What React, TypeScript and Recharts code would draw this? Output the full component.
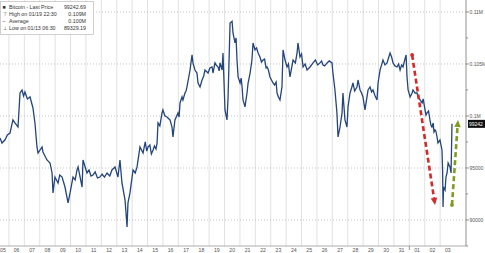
import React from "react";
import { LineChart, Line, XAxis, YAxis, CartesianGrid, ReferenceLine } from "recharts";

// time = fractional day of January (32 = Feb 1), price in USD; rows of times and prices line up
const times = [
  5.42, 5.55, 5.74, 5.9, 6.07, 6.26, 6.39, 6.59, 6.72, 6.85, 6.95, 7.04, 7.2, 7.37, 7.56, 7.69, 7.82, 7.89, 8.15, 8.21,
  8.47, 8.67, 8.8, 8.86, 8.99, 9.19, 9.3, 9.45, 9.64, 9.84, 9.97, 10.16, 10.3, 10.42, 10.49, 10.75, 10.81,
  11.07, 11.2, 11.33, 11.46, 11.6, 11.75, 11.91, 12.05, 12.2, 12.37, 12.55, 12.69, 12.89, 13.08,
  13.21, 13.34, 13.54, 13.67, 13.73, 13.86, 14.06, 14.2, 14.32, 14.51, 14.71, 14.85, 14.95, 15.03, 15.15, 15.25, 15.36, 15.45, 15.55, 15.62,
  15.68, 15.8, 15.94, 16.0, 16.13, 16.26, 16.46, 16.59, 16.65, 16.78, 16.98, 17.05, 17.11, 17.24, 17.3, 17.43, 17.5, 17.56, 17.76, 17.89, 17.95,
  18.08, 18.21, 18.28, 18.41, 18.54, 18.65, 18.73, 18.93, 19.05, 19.19, 19.25, 19.38, 19.45, 19.58, 19.65, 19.71, 19.84, 19.9, 20.03, 20.16, 20.23,
  20.36, 20.49, 20.55, 20.68, 20.75, 20.81, 20.88, 21.01, 21.08, 21.14, 21.2, 21.33, 21.46, 21.53, 21.66, 21.78, 21.85, 21.98, 22.08, 22.18,
  22.3, 22.4, 22.5, 22.6, 22.7, 22.76, 22.85, 22.95, 23.05, 23.15, 23.25, 23.35, 23.41, 23.5, 23.6, 23.73, 23.8, 23.93, 24.06, 24.15, 24.25,
  24.45, 24.6, 24.71, 24.77, 24.9, 25.0, 25.1, 25.23, 25.36, 25.55, 25.75, 25.9, 26.05, 26.2, 26.3, 26.4, 26.5, 26.66, 26.8, 26.98, 27.04,
  27.17, 27.3, 27.37, 27.5, 27.63, 27.69, 27.82, 27.95, 28.02, 28.15, 28.25, 28.34, 28.45, 28.6, 28.67, 28.8, 28.9, 28.99, 29.12,
  29.25, 29.32, 29.45, 29.55, 29.64, 29.78, 29.9, 29.97, 30.1, 30.2, 30.29, 30.42, 30.55, 30.65, 30.75, 30.85, 30.94, 31.07, 31.2, 31.3, 31.4, 31.5, 31.59, 31.7, 31.79, 31.85, 31.92,
  32.05, 32.18, 32.24, 32.37, 32.5, 32.57, 32.7, 32.83, 32.9, 33.02, 33.08, 33.15, 33.25, 33.34, 33.4, 33.47, 33.55, 33.6, 33.67, 33.72, 33.8, 33.86, 33.99, 34.12, 34.16, 34.19, 34.22, 34.32, 34.38, 34.45, 34.52, 34.64, 34.71, 34.77,
];

const prices = [
  97880, 97400, 97690, 98170, 98360, 99620, 99330, 98940, 102210, 102500, 101930, 102310, 101640, 101830, 100770, 99330, 97020, 96440, 97020, 96540,
  95770, 95480, 94520, 92600, 94130, 93560, 94330, 94130, 93170, 91640, 92600, 94130, 93850, 94810, 95100, 93170, 95770,
  94520, 94810, 94230, 94330, 94620, 94040, 94130, 94420, 94130, 94520, 94230, 94810, 95100, 94130,
  95770, 93560, 91920, 89330, 91640, 92600, 94810, 94520, 95100, 97020, 96440, 97500, 96630, 97020, 97210, 96340, 96730, 97120, 96830, 97400,
  99330, 99040, 100290, 100580, 100000, 99900, 99620, 98940, 97980, 99620, 100290, 99900, 101250, 101830, 101540, 102210, 102400, 102790, 104420, 105870, 105100,
  104420, 104130, 103170, 102790, 103460, 103850, 104420, 104130, 104620, 104710, 104130, 105100, 104910, 104710, 104330, 105100, 104420, 106060, 100580, 99620, 101830,
  108940, 109100, 107980, 107020, 107500, 105380, 103750, 103170, 103650, 102790, 101540, 100870, 102210, 103170, 104130, 105380, 107020, 106350, 106540, 106060,
  105670, 105190, 105380, 105470, 104620, 104710, 104420, 103750, 103460, 103170, 102980, 103270, 102210, 101830, 101540, 102790, 106350, 105380, 104710, 105000, 103750,
  105380, 105100, 106060, 107020, 105670, 105960, 104710, 105000, 104420, 104710, 105100, 105380, 104900, 105100, 105290, 104900, 104810, 105100, 105290, 105100, 104130,
  102500, 100290, 97980, 98940, 100290, 102210, 99620, 98940, 100870, 102210, 102690, 103170, 102400, 102790, 103460, 102500, 102210, 101830, 100580,
  101830, 102500, 102790, 102310, 102500, 101930, 101540, 103170, 104420, 104910, 105380, 104910, 105100, 105570, 106060, 105670, 105100, 104810, 104710, 105000, 104420, 104910, 104710, 105380, 105870, 103750, 102500,
  101830, 102210, 102500, 102210, 102210, 101830, 101540, 101250, 101640, 100580, 100090, 100290, 100480, 99620, 99140, 98940, 99330, 98460, 98650, 98560, 97980, 97400, 97690, 96730, 94810, 91250, 93170, 92880, 94130, 94520, 95480, 95100, 94520, 99242.69,
];

const dayLabels = [
  "05", "06", "07", "08", "09", "10", "11", "12", "13", "14", "15", "16", "17", "18", "19",
  "20", "21", "22", "23", "24", "25", "26", "27", "28", "29", "30", "31", "01", "02", "03",
];

const priceTicks = [87500, 90000, 92500, 95000, 97500, 100000, 102500, 105000, 107500, 110000];
const priceLabels: Record<number, string> = {
  90000: "90000",
  95000: "95000",
  100000: "0.1M",
  105000: "0.105M",
  110000: "0.11M",
};

const lastPrice = 99242.69;
const dropArrow = [{ x: 32.18, y: 105870 }, { x: 33.67, y: 91440 }];
const reboundArrow = [{ x: 34.77, y: 91440 }, { x: 35.16, y: 99620 }];

const legendRows = [
  { mark: "■", label: "Bitcoin - Last Price", value: "99242.69" },
  { mark: "⊤", label: "High on 01/19 22:30", value: "0.109M" },
  { mark: "–", label: "Average", value: "0.100M" },
  { mark: "⊥", label: "Low on 01/13 06:30", value: "89329.19" },
];

const data = times.map((t, i) => ({ t, price: prices[i] }));
const dayTicks = dayLabels.map((_, i) => 5.5 + i);
const dayGrid = dayLabels.slice(1).map((_, i) => 6 + i);

const font = "'Liberation Sans', Arial, sans-serif";

function DayTick({ x, y, payload }: any) {
  const label = dayLabels[Math.round(payload.value - 5.5)];
  return (
    <text x={Math.max(x, 3)} y={y + 6.2} textAnchor="middle" fontSize={5.2} fill="#555" fontFamily={font}>
      {label}
    </text>
  );
}

function PriceTick({ x, y, payload }: any) {
  const v = payload.value;
  const label = priceLabels[v];
  return (
    <g>
      <line x1={x} y1={y} x2={x + (label ? 3 : 2)} y2={y} stroke="#666" strokeWidth={0.7} />
      {label && (
        <text x={x + 3.5} y={y + 2} fontSize={5} fill="#555" fontFamily={font}>
          {label}
        </text>
      )}
    </g>
  );
}

function Arrow({ x1, y1, x2, y2, color }: any) {
  const dx = x2 - x1;
  const dy = y2 - y1;
  const len = Math.hypot(dx, dy) || 1;
  const ux = dx / len;
  const uy = dy / len;
  const head = 7;
  const half = 3.3;
  const bx = x2 - ux * head;
  const by = y2 - uy * head;
  return (
    <g>
      <circle cx={x1} cy={y1} r={1.9} fill={color} />
      <line x1={x1} y1={y1} x2={bx} y2={by} stroke={color} strokeWidth={2.6} strokeDasharray="5 3" />
      <polygon
        points={`${x2},${y2} ${bx - uy * half},${by + ux * half} ${bx + uy * half},${by - ux * half}`}
        fill={color}
      />
    </g>
  );
}

function LastTag({ x1, x2, y1 }: any) {
  const right = Math.max(x1, x2);
  return (
    <g>
      <rect x={right + 2} y={y1 - 4} width={17} height={8} fill="#111" />
      <text x={right + 3} y={y1 + 2} fontSize={5} fill="#fff" fontFamily={font}>
        {Math.floor(lastPrice)}
      </text>
    </g>
  );
}

function MonthTick({ x1, y1, y2 }: any) {
  const bottom = Math.max(y1, y2);
  return <line x1={x1} y1={bottom} x2={x1} y2={bottom + 4} stroke="#777" strokeWidth={0.8} />;
}

function Legend() {
  return (
    <svg width={100} height={38} style={{ position: "absolute", left: 0, top: 0 }}>
      <rect x={0.5} y={1.5} width={93} height={33} fill="#fff" stroke="#bbb" strokeWidth={0.7} />
      {legendRows.map((r, i) => (
        <g key={r.label} fontFamily={font} fontSize={5.3} fill="#333">
          <text x={2.5} y={8.8 + i * 7.2}>{r.mark}</text>
          <text x={9} y={8.8 + i * 7.2}>{r.label}</text>
          <text x={86} y={8.8 + i * 7.2} textAnchor="end">{r.value}</text>
        </g>
      ))}
    </svg>
  );
}

export default function App() {
  return (
    <div style={{ position: "absolute", left: 0, top: 0, width: 485, height: 253, background: "#fff" }}>
      <LineChart width={485} height={253} data={data} margin={{ top: 0, right: 0, bottom: 0, left: 0 }}>
        <CartesianGrid horizontal={false} verticalValues={dayGrid} stroke="#d9d9d9" strokeWidth={0.8} />
        <CartesianGrid
          vertical={false}
          horizontalValues={[90000, 95000, 100000, 105000, 110000]}
          stroke="#b5b5b5"
          strokeDasharray="1 2"
          strokeWidth={0.8}
        />
        <XAxis
          dataKey="t"
          type="number"
          domain={[5.42, 35.68]}
          allowDataOverflow
          ticks={dayTicks}
          interval={0}
          tick={<DayTick />}
          tickLine={false}
          tickSize={0}
          tickMargin={0}
          height={7}
          axisLine={{ stroke: "#999", strokeWidth: 0.8 }}
        />
        <YAxis
          orientation="right"
          type="number"
          domain={[87500, 111150]}
          allowDataOverflow
          ticks={priceTicks}
          interval={0}
          tick={<PriceTick />}
          tickLine={false}
          tickSize={0}
          tickMargin={0}
          width={19}
          axisLine={{ stroke: "#777", strokeWidth: 0.8 }}
        />
        <Line
          type="linear"
          dataKey="price"
          stroke="#23457b"
          strokeWidth={1.3}
          dot={false}
          isAnimationActive={false}
        />
        <ReferenceLine x={32} ifOverflow="visible" shape={(p: any) => <MonthTick {...p} />} />
        <ReferenceLine
          segment={dropArrow}
          ifOverflow="visible"
          shape={(p: any) => <Arrow {...p} color="#d32a2a" />}
        />
        <ReferenceLine
          segment={reboundArrow}
          ifOverflow="visible"
          shape={(p: any) => <Arrow {...p} color="#7e9c22" />}
        />
        <ReferenceLine y={lastPrice} ifOverflow="visible" shape={(p: any) => <LastTag {...p} />} />
      </LineChart>
      <Legend />
    </div>
  );
}
